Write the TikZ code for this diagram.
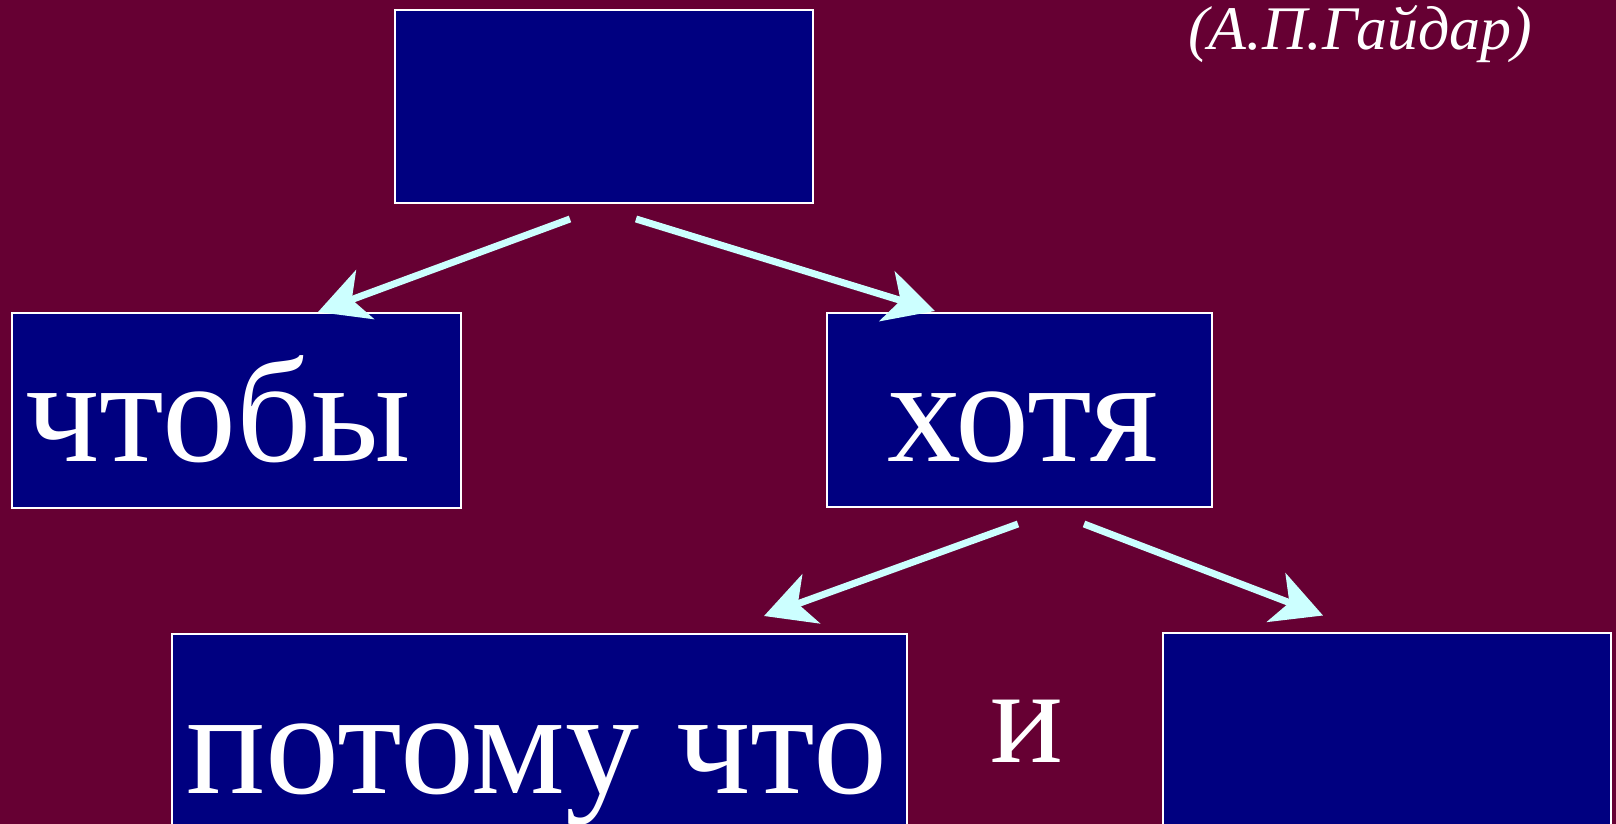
\documentclass[tikz,border=0pt]{standalone}
\usepackage{fontspec}
\setmainfont{Liberation Serif}
\usetikzlibrary{arrows.meta}
\definecolor{maroon}{RGB}{102,0,51}
\definecolor{slidenavy}{RGB}{0,0,128}
\definecolor{palecyan}{RGB}{204,255,255}
\tikzset{
	box/.style={draw=white, line width=1pt, fill=slidenavy, inner sep=0pt},
	word/.style={text=white, inner sep=0pt, anchor=base, font=\fontsize{74}{80}\selectfont},
	arr/.style={draw=palecyan, line width=3.5pt, -{Stealth[length=25pt,width=26pt,inset=7pt]}}
}

\begin{document}
\begin{tikzpicture}[x=0.5pt,y=0.5pt]
	\useasboundingbox (0,0) rectangle (1616,824);
	\clip (0,0) rectangle (1616,824);
	\fill[maroon] (0,0) rectangle (1616,824);
	% boxes
	\node[box, minimum width=209pt, minimum height=96.5pt] (q) at (604,717.5) {};
	\node[box, minimum width=224.5pt, minimum height=97.5pt] (chtoby) at (236.5,413.5) {};
	\node[box, minimum width=192.5pt, minimum height=97pt] (khotya) at (1019.5,414) {};
	\node[box, minimum width=367.5pt, minimum height=97.5pt] (potomu) at (539.5,92.5) {};
	\node[box, minimum width=224pt, minimum height=97.5pt] (blank) at (1387,93.5) {};
	% words
	\node[word] (w1) at (218,362) {чтобы};
	\node[word] (w2) at (1023,362) {хотя};
	\node[word] (w3) at (537,30) {потому что};
	\node[word, font=\fontsize{68}{72}\selectfont] (w4) at (1027,61) {и};
	\node[text=white, inner sep=0pt, anchor=base, font=\fontsize{31}{34}\selectfont\itshape] (author) at (1360,774) {(А.П.Гайдар)};
	% arrows
	\draw[arr] ([shift={(-34,-15)}]q.south) -- ([shift={(81.5,0)}]chtoby.north);
	\draw[arr] ([shift={(32,-15)}]q.south) -- ([shift={(-84.5,1)}]khotya.north);
	\draw[arr] ([shift={(-1.5,-16)}]khotya.south) -- ([shift={(224.5,17)}]potomu.north);
	\draw[arr] ([shift={(64.5,-16)}]khotya.south) -- ([shift={(-64,16.5)}]blank.north);
\end{tikzpicture}
\end{document}
